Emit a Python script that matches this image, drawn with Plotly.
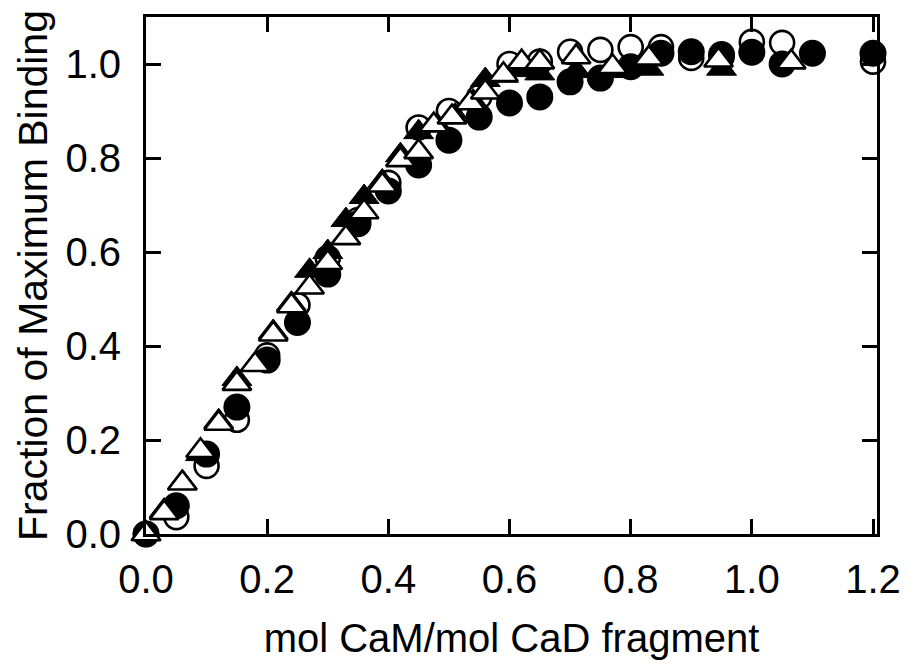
import plotly.graph_objects as go

# Titration data: fraction of maximum binding vs. mol CaM / mol CaD fragment
x_fill_circ = [0.00, 0.05, 0.10, 0.15, 0.20, 0.25, 0.30, 0.35, 0.40, 0.45, 0.50, 0.55,
               0.60, 0.65, 0.70, 0.75, 0.80, 0.85, 0.90, 0.95, 1.00, 1.05, 1.10, 1.20]
y_fill_circ = [0.00, 0.06, 0.17, 0.27, 0.37, 0.45, 0.553, 0.66, 0.73, 0.785, 0.838, 0.887,
               0.917, 0.93, 0.962, 0.97, 0.994, 1.023, 1.026, 1.02, 1.025, 1.00, 1.023, 1.023]

x_open_circ = [0.00, 0.05, 0.10, 0.15, 0.20, 0.25, 0.30, 0.35, 0.40, 0.45, 0.50, 0.55,
               0.60, 0.65, 0.70, 0.75, 0.80, 0.85, 0.90, 0.95, 1.00, 1.05, 1.20]
y_open_circ = [0.00, 0.036, 0.145, 0.243, 0.38, 0.487, 0.587, 0.668, 0.747, 0.865, 0.90, 0.93,
               1.00, 1.005, 1.026, 1.03, 1.036, 1.036, 1.013, 1.015, 1.047, 1.045, 1.005]

x_fill_tri = [0.00, 0.03, 0.06, 0.09, 0.12, 0.15, 0.18, 0.21, 0.24, 0.27, 0.30, 0.33, 0.36,
              0.39, 0.42, 0.45, 0.48, 0.51, 0.54, 0.56, 0.59, 0.62, 0.65, 0.71, 0.77, 0.83, 0.95]
y_fill_tri = [0.00, 0.05, 0.11, 0.17, 0.24, 0.33, 0.36, 0.43, 0.49, 0.56, 0.60, 0.668, 0.717,
              0.75, 0.806, 0.855, 0.87, 0.89, 0.92, 0.966, 0.975, 0.987, 0.98, 0.985, 0.985, 0.99, 0.99]

x_open_tri = [0.00, 0.03, 0.06, 0.09, 0.12, 0.15, 0.18, 0.21, 0.24, 0.27, 0.30, 0.33, 0.36,
              0.39, 0.42, 0.45, 0.475, 0.505, 0.535, 0.56, 0.59, 0.62, 0.65, 0.71, 0.77, 0.83,
              0.945, 1.065]
y_open_tri = [0.00, 0.045, 0.108, 0.177, 0.235, 0.32, 0.36, 0.425, 0.485, 0.525, 0.577, 0.63,
              0.685, 0.742, 0.796, 0.813, 0.87, 0.887, 0.917, 0.94, 0.977, 1.004, 1.004, 1.015,
              0.994, 1.012, 1.008, 1.004]

x_ticks = [0.0, 0.2, 0.4, 0.6, 0.8, 1.0, 1.2]
y_ticks = [0.0, 0.2, 0.4, 0.6, 0.8, 1.0]

FONT = "Liberation Sans, Arial, sans-serif"

fig = go.Figure()

fig.add_trace(go.Scatter(
    x=x_open_circ, y=y_open_circ, mode="markers", cliponaxis=False,
    marker=dict(symbol="circle", size=24, color="white",
                line=dict(color="black", width=2.6)),
    showlegend=False))

fig.add_trace(go.Scatter(
    x=x_fill_circ, y=y_fill_circ, mode="markers", cliponaxis=False,
    marker=dict(symbol="circle", size=27, color="black",
                line=dict(color="black", width=0)),
    showlegend=False))

fig.add_trace(go.Scatter(
    x=x_fill_tri, y=y_fill_tri, mode="markers", cliponaxis=False,
    marker=dict(symbol="triangle-up", size=26, color="black",
                line=dict(color="black", width=1)),
    showlegend=False))

fig.add_trace(go.Scatter(
    x=x_open_tri, y=y_open_tri, mode="markers", cliponaxis=False,
    marker=dict(symbol="triangle-up", size=25, color="white",
                line=dict(color="black", width=2.6)),
    showlegend=False))

axis_common = dict(
    showline=True, linecolor="black", linewidth=3, mirror="ticks",
    ticks="inside", ticklen=15, tickwidth=3, tickcolor="black",
    showgrid=False, zeroline=False,
)

fig.update_xaxes(
    range=[0, 1.2066], tickvals=x_ticks, ticktext=[f"{v:.1f}" for v in x_ticks],
    tickfont=dict(family=FONT, size=40, color="black"),
    title=dict(text="mol CaM/mol CaD fragment",
               font=dict(family=FONT, size=40, color="black"), standoff=24),
    ticklabelstandoff=8,
    **axis_common)

fig.update_yaxes(
    range=[0, 1.1], tickvals=y_ticks, ticktext=[f"{v:.1f}" for v in y_ticks],
    tickfont=dict(family=FONT, size=40, color="black"),
    title=dict(text="Fraction of Maximum Binding",
               font=dict(family=FONT, size=41, color="black"), standoff=6),
    ticklabelstandoff=14,
    **axis_common)

fig.update_layout(
    width=913, height=670,
    margin=dict(l=146, r=31, t=17, b=136),
    paper_bgcolor="white", plot_bgcolor="white",
)

fig.write_html("out.html")
